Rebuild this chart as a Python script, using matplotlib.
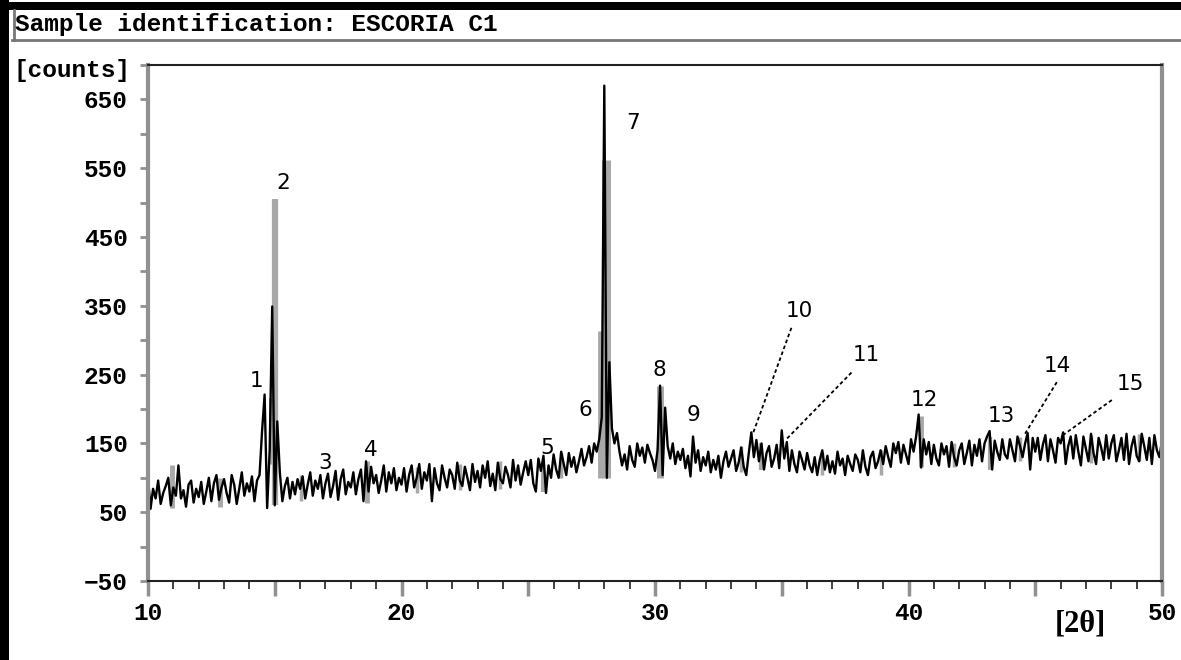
import numpy as np
import matplotlib
matplotlib.use("Agg")
import matplotlib.pyplot as plt
from matplotlib.patches import Rectangle
from matplotlib.lines import Line2D
from matplotlib.ticker import MultipleLocator, FuncFormatter

# Measured pattern, 0.1 deg steps from 10.0 to 50.0 (one row per degree)
two_theta_start = 10.0
two_theta_step = 0.1
counts_rows = [
    [100, 55, 84, 70, 96, 62, 78, 88, 100, 60],      # 10
    [86, 74, 118, 70, 82, 58, 90, 96, 64, 84],       # 11
    [72, 94, 62, 80, 100, 66, 92, 104, 68, 86],      # 12
    [98, 78, 64, 104, 90, 62, 84, 108, 74, 92],      # 13
    [80, 102, 66, 96, 104, 168, 221, 56, 140, 349],  # 14
    [60, 182, 108, 66, 88, 100, 70, 94, 76, 98],     # 15
    [84, 102, 70, 90, 108, 74, 96, 84, 104, 70],     # 16
    [92, 106, 72, 88, 110, 68, 98, 112, 76, 94],     # 17
    [86, 108, 76, 98, 112, 66, 124, 80, 116, 92],    # 18
    [104, 78, 96, 118, 80, 108, 92, 114, 82, 100],   # 19
    [90, 114, 80, 104, 118, 86, 100, 120, 84, 108],  # 20
    [96, 120, 66, 114, 92, 82, 118, 100, 86, 112],   # 21
    [104, 84, 122, 96, 88, 116, 100, 82, 120, 94],   # 22
    [110, 86, 118, 100, 124, 88, 106, 82, 122, 98],  # 23
    [92, 116, 104, 86, 126, 96, 118, 90, 108, 124],  # 24
    [104, 126, 92, 80, 128, 110, 132, 78, 118, 100], # 25
    [134, 112, 100, 138, 120, 104, 136, 116, 130, 108], # 26
    [124, 142, 118, 130, 146, 122, 150, 138, 156, 188], # 27
    [670, 100, 268, 172, 150, 165, 138, 118, 134, 112], # 28
    [146, 126, 116, 150, 132, 144, 122, 148, 136, 126], # 29
    [110, 140, 234, 104, 202, 146, 128, 150, 120, 138], # 30
    [126, 142, 114, 132, 102, 160, 122, 140, 110, 130], # 31
    [118, 138, 108, 126, 112, 132, 100, 124, 138, 116], # 32
    [128, 140, 110, 122, 144, 116, 104, 136, 166, 130], # 33
    [155, 124, 150, 112, 136, 146, 116, 128, 148, 114], # 34
    [169, 128, 152, 110, 140, 120, 108, 138, 126, 112], # 35
    [136, 118, 108, 130, 104, 126, 140, 112, 132, 108], # 36
    [124, 106, 138, 118, 128, 104, 132, 120, 110, 134], # 37
    [126, 108, 140, 116, 104, 130, 138, 114, 124, 140], # 38
    [120, 146, 130, 116, 150, 136, 152, 122, 148, 134], # 39
    [120, 156, 138, 160, 192, 115, 156, 134, 152, 120], # 40
    [148, 128, 118, 150, 134, 146, 116, 152, 130, 118], # 41
    [140, 150, 120, 136, 154, 118, 148, 132, 156, 124], # 42
    [150, 160, 168, 112, 154, 138, 126, 156, 134, 128], # 43
    [156, 140, 124, 160, 146, 130, 150, 165, 112, 158], # 44
    [138, 158, 126, 148, 162, 124, 156, 140, 122, 158], # 45
    [150, 166, 120, 146, 160, 128, 162, 138, 118, 160], # 46
    [142, 124, 164, 136, 120, 158, 144, 126, 162, 128], # 47
    [150, 162, 124, 140, 158, 126, 164, 120, 146, 160], # 48
    [132, 124, 164, 146, 126, 158, 120, 162, 140, 130], # 49
    [155],                                              # 50
]

# Gray reference sticks (position, bottom, top)
stick_pos = [10.95, 12.85, 14.85, 15.0, 16.05, 18.65, 20.6, 22.3, 23.9, 25.6, 26.3,
             27.85, 28.05, 30.2, 33.4, 34.2, 36.6, 38.9, 40.5, 41.8, 43.2, 44.4, 47.2, 49.1]
stick_lo  = [56, 58, 120, 60, 66, 64, 78, 82, 84, 80, 100,
             100, 100, 100, 108, 111, 104, 104, 115, 116, 111, 124, 122, 124]
stick_hi  = [118, 100, 216, 505, 104, 124, 116, 120, 124, 120, 136,
             314, 562, 234, 146, 150, 138, 140, 190, 150, 160, 160, 162, 164]
stick_lw  = [3.5, 3.5, 3.5, 4.5, 2.5, 3.5, 2.5, 2.5, 2.5, 3, 2.5,
             3.5, 6.5, 5, 2.5, 3, 2.5, 2.5, 3.5, 2.5, 3, 2.5, 2.5, 2.5]

# Peak labels
peak_names = ["1", "2", "3", "4", "5", "6", "7", "8", "9", "10", "11", "12", "13", "14", "15"]
peak_lx = [14.27, 15.34, 17.0, 18.77, 25.73, 27.27, 29.13, 30.16, 31.5, 35.69, 38.34, 40.63, 43.68, 45.89, 48.74]
peak_ly = [240, 528, 121, 140, 144, 198, 616, 256, 191, 343, 278, 213, 190, 262, 237]

# Leader lines (label end -> peak end)
leader_x0 = [35.38, 37.75, 45.85, 48.02]
leader_y0 = [318, 253, 239, 213]
leader_x1 = [33.87, 35.18, 44.58, 46.13]
leader_y1 = [165, 156, 163, 163]

counts = np.array([v for row in counts_rows for v in row], dtype=float)
two_theta = two_theta_start + two_theta_step * np.arange(len(counts))

W, H = 1181, 660
fig = plt.figure(figsize=(W / 100, H / 100), dpi=100)
fig.patch.set_facecolor("white")

def fx(px):
    return px / W

def fy(py):
    return 1 - py / H

# window frame
fig.add_artist(Rectangle((0, 0), fx(9), 1, transform=fig.transFigure, color="black", lw=0))
fig.add_artist(Rectangle((0, fy(10)), 1, fy(2) - fy(10), transform=fig.transFigure, color="black", lw=0))
fig.add_artist(Line2D([fx(12), 1], [fy(39.5), fy(39.5)], transform=fig.transFigure, color="#777777", lw=2))
fig.add_artist(Line2D([fx(13.5), fx(13.5)], [fy(10), fy(39.5)], transform=fig.transFigure, color="#777777", lw=2))

mono = "Liberation Mono"
fig.text(fx(15), fy(25), "Sample identification: ESCORIA C1", family=mono,
         weight="bold", fontsize=17.6, va="center", ha="left")
fig.text(fx(131), fy(70), "[counts]", family=mono, weight="bold",
         fontsize=17.6, va="center", ha="right")
fig.text(fx(1080), fy(624), "[2\u03b8]", family="Liberation Serif", weight="bold",
         fontsize=22, va="center", ha="center")

ax = fig.add_axes([fx(148), fy(581), fx(1162) - fx(148), fy(65) - fy(581)])
ax.set_xlim(10, 50)
ax.set_ylim(-50, 700)

ax.vlines(stick_pos, stick_lo, stick_hi, colors="#a8a8a8", linewidths=stick_lw, zorder=1)
ax.plot(two_theta, counts, color="black", lw=1.7, zorder=2)

for name, x, y in zip(peak_names, peak_lx, peak_ly):
    ax.text(x, y, name, fontsize=15.5, ha="center", va="center", color="black",
            family="DejaVu Sans")
for x0, y0, x1, y1 in zip(leader_x0, leader_y0, leader_x1, leader_y1):
    ax.plot([x0, x1], [y0, y1], color="black", lw=1.3, ls=(0, (2, 1.5)))

for s in ["left", "right"]:
    ax.spines[s].set_color("#909090")
    ax.spines[s].set_linewidth(3)
for s in ["top", "bottom"]:
    ax.spines[s].set_color("#222222")
    ax.spines[s].set_linewidth(1.5)

ax.yaxis.set_major_locator(MultipleLocator(100, offset=50))
ax.yaxis.set_minor_locator(MultipleLocator(100))
ax.xaxis.set_major_locator(MultipleLocator(5))
ax.xaxis.set_minor_locator(MultipleLocator(1))
ax.xaxis.set_major_formatter(FuncFormatter(lambda v, p: f"{int(round(v))}" if round(v) % 10 == 0 else ""))
ax.yaxis.set_major_formatter(FuncFormatter(lambda v, p: f"{int(round(v))}".replace("-", "\u2212")))

ax.tick_params(axis="y", which="both", direction="out", length=6, width=2,
               color="#909090", pad=8.5)
ax.tick_params(axis="x", which="major", direction="out", length=11, width=2.5,
               color="#909090", pad=4)
ax.tick_params(axis="x", which="minor", direction="out", length=6, width=1.3,
               color="#333333")
for lab in ax.get_xticklabels() + ax.get_yticklabels():
    lab.set_family(mono)
    lab.set_weight("bold")
    lab.set_fontsize(17.6)

fig.savefig("out.png", dpi=100, facecolor="white")
